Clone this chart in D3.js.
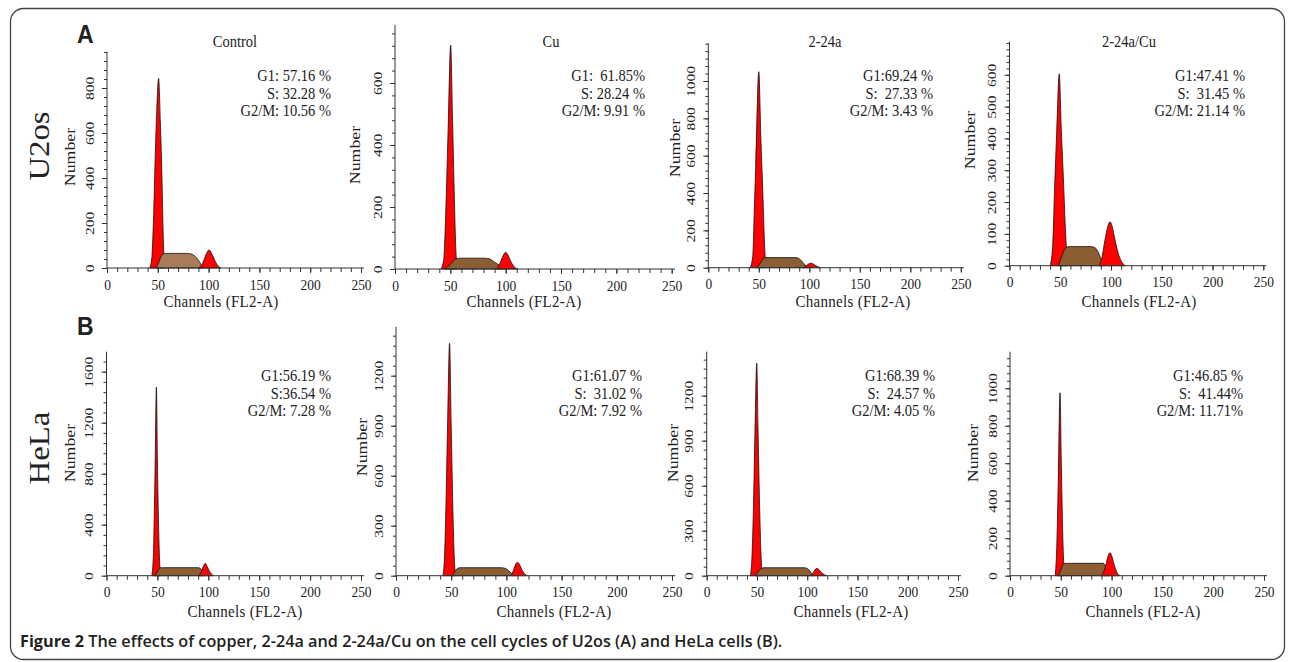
<!DOCTYPE html>
<html>
<head>
<meta charset="utf-8">
<script src="https://cdn.jsdelivr.net/npm/d3@7"></script>
<style>
  body { margin: 0; background: #fff; }
  svg text { white-space: pre; }
</style>
</head>
<body>
<svg id="chart" width="1290" height="662"></svg>
<script>
// ---- data ----
const cellLines = ["U2os", "HeLa"];
const panelLetters = ["A", "B"];
const treatments = ["Control", "Cu", "2-24a", "2-24a/Cu"];

const statsU2os = [
  ["G1: 57.16 %", "S: 32.28 %", "G2/M: 10.56 %"],
  ["G1:  61.85%", "S: 28.24 %", "G2/M: 9.91 %"],
  ["G1:69.24 %", "S:  27.33 %", "G2/M: 3.43 %"],
  ["G1:47.41 %", "S:  31.45 %", "G2/M: 21.14 %"]
];
const statsHeLa = [
  ["G1:56.19 %", "S:36.54 %", "G2/M: 7.28 %"],
  ["G1:61.07 %", "S:  31.02 %", "G2/M: 7.92 %"],
  ["G1:68.39 %", "S:  24.57 %", "G2/M: 4.05 %"],
  ["G1:46.85 %", "S:  41.44%", "G2/M: 11.71%"]
];

// y axis extents and labelled ticks
const yMaxU2os = [960, 787, 1202, 704];
const yMaxHeLa = [1757, 1494, 1493, 1195];
const yLabelsU2os = [
  [0, 200, 400, 600, 800],
  [0, 200, 400, 600],
  [0, 200, 400, 600, 800, 1000],
  [0, 100, 200, 300, 400, 500, 600]
];
const yLabelsHeLa = [
  [0, 400, 800, 1200, 1600],
  [0, 300, 600, 900, 1200],
  [0, 300, 600, 900, 1200],
  [0, 200, 400, 600, 800, 1000]
];
const xLabels = [0, 50, 100, 150, 200, 250];

// fitted peaks, [channel, count]
const g1U2os = [
  [[42,0],[44,40],[46,250],[47.5,500],[49,700],[50.8,843],[52.5,650],[54,420],[55.3,150],[56.5,0]],
  [[41.5,0],[44,30],[46,200],[48,450],[50.3,722],[52,480],[53.5,250],[55,60],[56.5,0]],
  [[41.5,0],[44,60],[45.5,300],[47,550],[50,1050],[52,700],[54,400],[55.5,150],[57,0]],
  [[40,0],[42.5,60],[44.5,250],[46.5,420],[49,603],[51,430],[53,280],[55,120],[57,0]]
];
const sU2os = [
  [[48.5,0],[51,25],[53,50],[56,63],[60,65],[78,65],[82,63],[86,55],[90,35],[93,12],[95,0]],
  [[45,0],[50,15],[55,33],[60,35],[80,35],[85,33],[90,22],[95,10],[99,0]],
  [[48,0],[51,20],[54,45],[57,54],[87,54],[90,48],[93,32],[96,14],[99,0]],
  [[48,0],[51,25],[54,50],[57,59],[60,60],[80,60],[84,57],[87,45],[90,22],[93,0]]
];
const g2U2os = [
  [[90,0],[94,20],[97,55],[100.5,80],[104,55],[107,25],[110,6],[112,0]],
  [[92,0],[95,20],[98,45],[100,54],[102,45],[105,22],[108,6],[111,0]],
  [[94,0],[97,10],[100,22],[102,24],[105,16],[108,6],[111,0]],
  [[88,0],[91,25],[94,80],[97,125],[99,138],[101,125],[104,80],[107,40],[110,15],[114,0]]
];
const g1HeLa = [
  [[44.5,0],[46,150],[47,500],[48,1000],[49,1478],[50,900],[51,450],[52,150],[53,0]],
  [[42.5,0],[44,120],[45.5,500],[47,1000],[48.5,1394],[50,900],[51.5,400],[53,80],[54,0]],
  [[43.5,0],[45,120],[46.5,450],[48,950],[49.8,1416],[51,1000],[52.5,500],[54,150],[55,0]],
  [[44.5,0],[46,150],[47.5,500],[49.2,976],[50.5,600],[52,200],[53.5,0]]
];
const sHeLa = [
  [[47.5,0],[50,30],[52.5,62],[55,63],[90,63],[92,58],[94.5,30],[97,0]],
  [[51,0],[53,20],[55,40],[57.5,48],[95,48],[99,44],[102,30],[105,12],[107,0]],
  [[48,0],[51,25],[54,48],[57,53],[97,53],[100,48],[103,28],[106,0]],
  [[47.5,0],[50,30],[53,64],[56,66],[92,66],[94.5,45],[97,0]]
];
const g2HeLa = [
  [[90.5,0],[93,30],[95,70],[97,97],[99,70],[101.5,30],[105,0]],
  [[104.5,0],[106.5,35],[108.5,70],[110,80],[112,65],[114.5,30],[118.5,0]],
  [[103.5,0],[106,20],[108,42],[109.5,49],[112,38],[115,16],[119,0]],
  [[90,0],[92.5,25],[94.5,60],[96.5,105],[98.4,123],[100.5,100],[102.5,60],[105,20],[108,0]]
];

const captionBold = "Figure 2";
const captionRest = " The effects of copper, 2-24a and 2-24a/Cu on the cell cycles of U2os (A) and HeLa cells (B).";

// ---- layout (pixel positions of each little plot) ----
const layout = [
  [
    { x0: 107, x250: 361, yBase: 268, yTop: 52, titleX: 235, statX: 331, numX: 70, numY: 157, chanX: 221, sFill: "#a77c56" },
    { x0: 395, x250: 671.7, yBase: 269, yTop: 25, titleX: 551, statX: 645, numX: 355, numY: 155, chanX: 524, sFill: "#8c5e33" },
    { x0: 708.3, x250: 960.8, yBase: 267.7, yTop: 43.3, titleX: 825, statX: 933, numX: 675, numY: 148, chanX: 853, sFill: "#8c5e33" },
    { x0: 1009.5, x250: 1263.3, yBase: 265.7, yTop: 41.7, titleX: 1129, statX: 1245, numX: 970, numY: 140, chanX: 1139, sFill: "#8c5e33" }
  ],
  [
    { x0: 106.5, x250: 361, yBase: 575.7, yTop: 351.7, statX: 331, numX: 70, numY: 453, chanX: 245, sFill: "#8c5e33" },
    { x0: 396, x250: 672, yBase: 575.7, yTop: 326.7, statX: 642, numX: 362, numY: 447, chanX: 554, sFill: "#8c5e33" },
    { x0: 706.7, x250: 958, yBase: 575.7, yTop: 351.7, statX: 935, numX: 673, numY: 453, chanX: 851, sFill: "#8c5e33" },
    { x0: 1010, x250: 1264, yBase: 575.7, yTop: 351.7, statX: 1243, numX: 973, numY: 453, chanX: 1143, sFill: "#8c5e33" }
  ]
];
const rowTop = [81, 381];        // baseline of first stats line
const chanBase = [307, 617];     // baseline of x axis title
const letterPos = [[77, 43], [77, 335]];
const cellPos = [[39, 146], [39, 448]];

const serif = "'Liberation Serif', 'Times New Roman', serif";
const stretch = 1.15;   // the source figure is slightly stretched vertically
const ink = "#222";

const svg = d3.select("#chart");

svg.append("rect")
  .attr("x", 10.5).attr("y", 8.5)
  .attr("width", 1274).attr("height", 651)
  .attr("rx", 13)
  .attr("fill", "none")
  .attr("stroke", "#444")
  .attr("stroke-width", 1.3);

function label(parent, str, x, y, size, opts = {}) {
  const rot = opts.rotate ? " rotate(-90)" : "";
  return parent.append("text")
    .attr("transform", `translate(${x},${y}) scale(1,${opts.stretch || stretch})${rot}`)
    .attr("dy", opts.rotate ? "0.35em" : null)
    .attr("text-anchor", opts.anchor || "middle")
    .attr("font-family", opts.family || serif)
    .attr("font-weight", opts.weight || null)
    .attr("font-size", size)
    .attr("letter-spacing", opts.spacing || null)
    .attr("fill", ink)
    .text(str);
}

const rows = [
  { stats: statsU2os, yMax: yMaxU2os, yLabels: yLabelsU2os, g1: g1U2os, s: sU2os, g2: g2U2os },
  { stats: statsHeLa, yMax: yMaxHeLa, yLabels: yLabelsHeLa, g1: g1HeLa, s: sHeLa, g2: g2HeLa }
];

rows.forEach((row, r) => {
  label(svg, panelLetters[r], letterPos[r][0], letterPos[r][1], 23,
    { anchor: "start", family: "'Liberation Sans', Arial, sans-serif", weight: "bold" });
  label(svg, cellLines[r], cellPos[r][0], cellPos[r][1], 28.5, { rotate: true });

  layout[r].forEach((L, i) => {
    const yMax = row.yMax[i];
    const labels = row.yLabels[i];
    const minorStep = (labels[1] - labels[0]) / 5;

    const x = d3.scaleLinear().domain([0, 250]).range([L.x0, L.x250]);
    const y = d3.scaleLinear().domain([0, yMax]).range([L.yBase, L.yTop]);
    const g = svg.append("g");

    const area = d3.area()
      .x(d => x(d[0]))
      .y0(y(0))
      .y1(d => y(d[1]))
      .curve(d3.curveMonotoneX);

    // G1, then S phase over it, then G2 on top
    [[row.g1[i], "#ff0000"], [row.s[i], L.sFill], [row.g2[i], "#ff0000"]].forEach(([pts, fill]) => {
      g.append("path")
        .datum(pts)
        .attr("d", area)
        .attr("fill", fill)
        .attr("stroke", "#111")
        .attr("stroke-width", 0.8)
        .attr("stroke-linejoin", "round");
    });

    // x axis
    g.append("g")
      .attr("transform", `translate(0,${L.yBase})`)
      .call(d3.axisBottom(x).tickValues(d3.range(0, 251, 10)).tickSize(4).tickSizeOuter(0).tickFormat(""));
    const xMajor = g.append("g")
      .attr("transform", `translate(0,${L.yBase})`)
      .call(d3.axisBottom(x).tickValues(xLabels).tickSize(5).tickSizeOuter(0).tickFormat(d3.format("d")));
    xMajor.selectAll("text")
      .attr("y", null).attr("dy", null)
      .attr("transform", `translate(0,21.5) scale(1,1.1)`)
      .attr("font-family", serif).attr("font-size", 13.5).attr("fill", ink);

    // y axis
    g.append("g")
      .attr("transform", `translate(${L.x0},0)`)
      .call(d3.axisLeft(y).tickValues(d3.range(0, yMax + 1, minorStep)).tickSize(3).tickSizeOuter(0).tickFormat(""));
    const yMajor = g.append("g")
      .attr("transform", `translate(${L.x0},0)`)
      .call(d3.axisLeft(y).tickValues(labels).tickSize(5).tickSizeOuter(0).tickFormat(d3.format("d")));
    yMajor.selectAll("text")
      .attr("x", null).attr("dy", "0.35em")
      .attr("text-anchor", "middle")
      .attr("transform", `translate(-18,0) scale(1,${stretch}) rotate(-90)`)
      .attr("font-family", serif).attr("font-size", 13.5).attr("fill", ink);

    g.selectAll(".domain").remove();
    g.selectAll(".tick line").attr("stroke", "#333");

    g.append("line")
      .attr("x1", x(0)).attr("x2", x(253))
      .attr("y1", y(0)).attr("y2", y(0))
      .attr("stroke", "#333");
    g.append("line")
      .attr("x1", L.x0).attr("x2", L.x0)
      .attr("y1", y(0)).attr("y2", y(yMax))
      .attr("stroke", "#333");

    // texts
    if (r === 0) label(g, treatments[i], L.titleX, 46.5, 14.5);
    row.stats[i].forEach((line, k) => {
      label(g, line, L.statX, rowTop[r] + k * 17.7, 14.5, { anchor: "end" });
    });
    label(g, "Number", L.numX, L.numY, 15.5, { rotate: true });
    label(g, "Channels (FL2-A)", L.chanX, chanBase[r], 15, { spacing: 0.3, stretch: 1.08 });
  });
});

// caption, sized to span the same width as the source
const cap = svg.append("text")
  .attr("x", 20).attr("y", 647)
  .attr("font-family", "'Open Sans', 'Noto Sans', sans-serif")
  .attr("font-size", 16)
  .attr("fill", "#231f20");
cap.append("tspan").attr("font-weight", 700).text(captionBold);
cap.append("tspan").attr("font-weight", 600).text(captionRest);
const capW = cap.node().getComputedTextLength();
cap.attr("font-size", 16 * 763 / capW);
</script>
</body>
</html>
